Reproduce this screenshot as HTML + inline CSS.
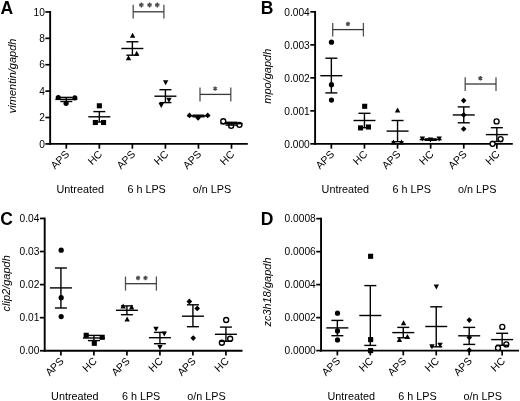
<!DOCTYPE html>
<html><head><meta charset="utf-8"><style>
html,body{margin:0;padding:0;background:#fff;width:520px;height:401px;overflow:hidden}
svg{display:block;will-change:transform}
text{font-family:"Liberation Sans", sans-serif}
</style></head><body>
<svg width="520" height="401" viewBox="0 0 520 401">
<rect width="520" height="401" fill="#fff"/>
<line x1="50.15" y1="11.05" x2="50.15" y2="144.80" stroke="#000" stroke-width="1.9"/>
<line x1="49.20" y1="143.90" x2="247.80" y2="143.90" stroke="#000" stroke-width="1.9"/>
<line x1="45.35" y1="143.90" x2="50.15" y2="143.90" stroke="#000" stroke-width="1.7"/>
<text x="44.85" y="147.55" font-size="10.2" text-anchor="end" font-weight="normal" font-style="normal" fill="#000" >0</text>
<line x1="45.35" y1="117.51" x2="50.15" y2="117.51" stroke="#000" stroke-width="1.7"/>
<text x="44.85" y="121.16" font-size="10.2" text-anchor="end" font-weight="normal" font-style="normal" fill="#000" >2</text>
<line x1="45.35" y1="91.12" x2="50.15" y2="91.12" stroke="#000" stroke-width="1.7"/>
<text x="44.85" y="94.77" font-size="10.2" text-anchor="end" font-weight="normal" font-style="normal" fill="#000" >4</text>
<line x1="45.35" y1="64.73" x2="50.15" y2="64.73" stroke="#000" stroke-width="1.7"/>
<text x="44.85" y="68.38" font-size="10.2" text-anchor="end" font-weight="normal" font-style="normal" fill="#000" >6</text>
<line x1="45.35" y1="38.34" x2="50.15" y2="38.34" stroke="#000" stroke-width="1.7"/>
<text x="44.85" y="41.99" font-size="10.2" text-anchor="end" font-weight="normal" font-style="normal" fill="#000" >8</text>
<line x1="45.35" y1="11.95" x2="50.15" y2="11.95" stroke="#000" stroke-width="1.7"/>
<text x="44.85" y="15.60" font-size="10.2" text-anchor="end" font-weight="normal" font-style="normal" fill="#000" >10</text>
<line x1="66.30" y1="143.90" x2="66.30" y2="148.70" stroke="#000" stroke-width="1.7"/>
<text x="69.90" y="154.90" font-size="10.5" text-anchor="end" font-weight="normal" font-style="normal" fill="#000" transform="rotate(-45 69.90 154.90)">APS</text>
<line x1="99.34" y1="143.90" x2="99.34" y2="148.70" stroke="#000" stroke-width="1.7"/>
<text x="102.94" y="154.90" font-size="10.5" text-anchor="end" font-weight="normal" font-style="normal" fill="#000" transform="rotate(-45 102.94 154.90)">HC</text>
<line x1="132.38" y1="143.90" x2="132.38" y2="148.70" stroke="#000" stroke-width="1.7"/>
<text x="135.98" y="154.90" font-size="10.5" text-anchor="end" font-weight="normal" font-style="normal" fill="#000" transform="rotate(-45 135.98 154.90)">APS</text>
<line x1="165.42" y1="143.90" x2="165.42" y2="148.70" stroke="#000" stroke-width="1.7"/>
<text x="169.02" y="154.90" font-size="10.5" text-anchor="end" font-weight="normal" font-style="normal" fill="#000" transform="rotate(-45 169.02 154.90)">HC</text>
<line x1="198.46" y1="143.90" x2="198.46" y2="148.70" stroke="#000" stroke-width="1.7"/>
<text x="202.06" y="154.90" font-size="10.5" text-anchor="end" font-weight="normal" font-style="normal" fill="#000" transform="rotate(-45 202.06 154.90)">APS</text>
<line x1="231.50" y1="143.90" x2="231.50" y2="148.70" stroke="#000" stroke-width="1.7"/>
<text x="235.10" y="154.90" font-size="10.5" text-anchor="end" font-weight="normal" font-style="normal" fill="#000" transform="rotate(-45 235.10 154.90)">HC</text>
<text x="80.22" y="193.30" font-size="10.8" text-anchor="middle" font-weight="normal" font-style="normal" fill="#000" >Untreated</text>
<text x="146.60" y="193.30" font-size="10.8" text-anchor="middle" font-weight="normal" font-style="normal" fill="#000" >6 h LPS</text>
<text x="211.98" y="193.30" font-size="10.8" text-anchor="middle" font-weight="normal" font-style="normal" fill="#000" >o/n LPS</text>
<text x="16.50" y="75.90" font-size="11" text-anchor="middle" font-weight="normal" font-style="italic" fill="#000" transform="rotate(-90 16.50 75.90)">vimentin/gapdh</text>
<text x="0.60" y="13.50" font-size="17.5" text-anchor="start" font-weight="bold" font-style="normal" fill="#000" >A</text>
<circle cx="58.30" cy="97.50" r="2.6" fill="#000"/>
<circle cx="74.80" cy="97.80" r="2.6" fill="#000"/>
<circle cx="66.10" cy="103.30" r="2.6" fill="#000"/>
<line x1="66.30" y1="97.40" x2="66.30" y2="101.50" stroke="#000" stroke-width="1.4"/>
<line x1="60.30" y1="97.40" x2="72.30" y2="97.40" stroke="#000" stroke-width="1.4"/>
<line x1="60.30" y1="101.50" x2="72.30" y2="101.50" stroke="#000" stroke-width="1.4"/>
<line x1="55.30" y1="99.40" x2="77.30" y2="99.40" stroke="#000" stroke-width="1.4"/>
<rect x="96.80" y="103.25" width="5.1" height="5.1" fill="#000"/>
<rect x="92.80" y="119.95" width="5.1" height="5.1" fill="#000"/>
<rect x="101.00" y="119.95" width="5.1" height="5.1" fill="#000"/>
<line x1="99.34" y1="111.60" x2="99.34" y2="122.00" stroke="#000" stroke-width="1.4"/>
<line x1="93.34" y1="111.60" x2="105.34" y2="111.60" stroke="#000" stroke-width="1.4"/>
<line x1="93.34" y1="122.00" x2="105.34" y2="122.00" stroke="#000" stroke-width="1.4"/>
<line x1="88.34" y1="116.80" x2="110.34" y2="116.80" stroke="#000" stroke-width="1.4"/>
<path d="M132.60,32.80L135.30,37.80L129.90,37.80Z" fill="#000"/>
<path d="M136.70,50.80L139.40,55.80L134.00,55.80Z" fill="#000"/>
<path d="M128.50,55.20L131.20,60.20L125.80,60.20Z" fill="#000"/>
<line x1="132.38" y1="41.75" x2="132.38" y2="55.20" stroke="#000" stroke-width="1.4"/>
<line x1="126.38" y1="41.75" x2="138.38" y2="41.75" stroke="#000" stroke-width="1.4"/>
<line x1="126.38" y1="55.20" x2="138.38" y2="55.20" stroke="#000" stroke-width="1.4"/>
<line x1="121.38" y1="48.50" x2="143.38" y2="48.50" stroke="#000" stroke-width="1.4"/>
<path d="M165.65,85.30L168.35,80.30L162.95,80.30Z" fill="#000"/>
<path d="M168.95,102.80L171.65,97.80L166.25,97.80Z" fill="#000"/>
<path d="M161.25,107.90L163.95,102.90L158.55,102.90Z" fill="#000"/>
<line x1="165.42" y1="89.70" x2="165.42" y2="102.60" stroke="#000" stroke-width="1.4"/>
<line x1="159.42" y1="89.70" x2="171.42" y2="89.70" stroke="#000" stroke-width="1.4"/>
<line x1="159.42" y1="102.60" x2="171.42" y2="102.60" stroke="#000" stroke-width="1.4"/>
<line x1="154.42" y1="96.20" x2="176.42" y2="96.20" stroke="#000" stroke-width="1.4"/>
<path d="M189.50,112.45L192.30,115.40L189.50,118.35L186.70,115.40Z" fill="#000"/>
<path d="M198.10,114.75L200.90,117.70L198.10,120.65L195.30,117.70Z" fill="#000"/>
<path d="M207.70,112.45L210.50,115.40L207.70,118.35L204.90,115.40Z" fill="#000"/>
<line x1="198.46" y1="115.20" x2="198.46" y2="116.80" stroke="#000" stroke-width="1.4"/>
<line x1="192.46" y1="115.20" x2="204.46" y2="115.20" stroke="#000" stroke-width="1.4"/>
<line x1="192.46" y1="116.80" x2="204.46" y2="116.80" stroke="#000" stroke-width="1.4"/>
<line x1="187.46" y1="116.00" x2="209.46" y2="116.00" stroke="#000" stroke-width="1.4"/>
<circle cx="223.25" cy="121.20" r="2.5" fill="#fff" stroke="#000" stroke-width="1.35"/>
<circle cx="231.15" cy="125.80" r="2.5" fill="#fff" stroke="#000" stroke-width="1.35"/>
<circle cx="239.45" cy="124.80" r="2.5" fill="#fff" stroke="#000" stroke-width="1.35"/>
<line x1="231.50" y1="122.30" x2="231.50" y2="125.10" stroke="#000" stroke-width="1.4"/>
<line x1="225.50" y1="122.30" x2="237.50" y2="122.30" stroke="#000" stroke-width="1.4"/>
<line x1="225.50" y1="125.10" x2="237.50" y2="125.10" stroke="#000" stroke-width="1.4"/>
<line x1="220.50" y1="123.70" x2="242.50" y2="123.70" stroke="#000" stroke-width="1.4"/>
<line x1="133.20" y1="4.70" x2="133.20" y2="18.60" stroke="#505050" stroke-width="1.3"/>
<line x1="163.90" y1="4.70" x2="163.90" y2="18.60" stroke="#505050" stroke-width="1.3"/>
<line x1="133.20" y1="11.80" x2="163.90" y2="11.80" stroke="#383838" stroke-width="1.3"/>
<path d="M141.40,2.60L141.40,7.40M139.32,3.80L143.48,6.20M143.48,3.80L139.32,6.20" stroke="#4a4a4a" stroke-width="1.35" fill="none"/>
<path d="M149.60,2.60L149.60,7.40M147.52,3.80L151.68,6.20M151.68,3.80L147.52,6.20" stroke="#4a4a4a" stroke-width="1.35" fill="none"/>
<path d="M157.30,2.60L157.30,7.40M155.22,3.80L159.38,6.20M159.38,3.80L155.22,6.20" stroke="#4a4a4a" stroke-width="1.35" fill="none"/>
<line x1="200.00" y1="87.60" x2="200.00" y2="101.40" stroke="#505050" stroke-width="1.3"/>
<line x1="230.80" y1="87.60" x2="230.80" y2="101.40" stroke="#505050" stroke-width="1.3"/>
<line x1="200.00" y1="94.40" x2="230.80" y2="94.40" stroke="#383838" stroke-width="1.3"/>
<path d="M215.20,86.40L215.20,90.80M213.29,87.50L217.11,89.70M217.11,87.50L213.29,89.70" stroke="#4a4a4a" stroke-width="1.35" fill="none"/>
<line x1="315.10" y1="10.95" x2="315.10" y2="144.75" stroke="#000" stroke-width="1.9"/>
<line x1="314.15" y1="143.85" x2="512.80" y2="143.85" stroke="#000" stroke-width="1.9"/>
<line x1="310.30" y1="143.85" x2="315.10" y2="143.85" stroke="#000" stroke-width="1.7"/>
<text x="309.80" y="147.50" font-size="10.2" text-anchor="end" font-weight="normal" font-style="normal" fill="#000" >0.000</text>
<line x1="310.30" y1="110.85" x2="315.10" y2="110.85" stroke="#000" stroke-width="1.7"/>
<text x="309.80" y="114.50" font-size="10.2" text-anchor="end" font-weight="normal" font-style="normal" fill="#000" >0.001</text>
<line x1="310.30" y1="77.85" x2="315.10" y2="77.85" stroke="#000" stroke-width="1.7"/>
<text x="309.80" y="81.50" font-size="10.2" text-anchor="end" font-weight="normal" font-style="normal" fill="#000" >0.002</text>
<line x1="310.30" y1="44.85" x2="315.10" y2="44.85" stroke="#000" stroke-width="1.7"/>
<text x="309.80" y="48.50" font-size="10.2" text-anchor="end" font-weight="normal" font-style="normal" fill="#000" >0.003</text>
<line x1="310.30" y1="11.85" x2="315.10" y2="11.85" stroke="#000" stroke-width="1.7"/>
<text x="309.80" y="15.50" font-size="10.2" text-anchor="end" font-weight="normal" font-style="normal" fill="#000" >0.004</text>
<line x1="331.35" y1="143.85" x2="331.35" y2="148.65" stroke="#000" stroke-width="1.7"/>
<text x="334.95" y="154.85" font-size="10.5" text-anchor="end" font-weight="normal" font-style="normal" fill="#000" transform="rotate(-45 334.95 154.85)">APS</text>
<line x1="364.45" y1="143.85" x2="364.45" y2="148.65" stroke="#000" stroke-width="1.7"/>
<text x="368.05" y="154.85" font-size="10.5" text-anchor="end" font-weight="normal" font-style="normal" fill="#000" transform="rotate(-45 368.05 154.85)">HC</text>
<line x1="397.55" y1="143.85" x2="397.55" y2="148.65" stroke="#000" stroke-width="1.7"/>
<text x="401.15" y="154.85" font-size="10.5" text-anchor="end" font-weight="normal" font-style="normal" fill="#000" transform="rotate(-45 401.15 154.85)">APS</text>
<line x1="430.65" y1="143.85" x2="430.65" y2="148.65" stroke="#000" stroke-width="1.7"/>
<text x="434.25" y="154.85" font-size="10.5" text-anchor="end" font-weight="normal" font-style="normal" fill="#000" transform="rotate(-45 434.25 154.85)">HC</text>
<line x1="463.75" y1="143.85" x2="463.75" y2="148.65" stroke="#000" stroke-width="1.7"/>
<text x="467.35" y="154.85" font-size="10.5" text-anchor="end" font-weight="normal" font-style="normal" fill="#000" transform="rotate(-45 467.35 154.85)">APS</text>
<line x1="496.85" y1="143.85" x2="496.85" y2="148.65" stroke="#000" stroke-width="1.7"/>
<text x="500.45" y="154.85" font-size="10.5" text-anchor="end" font-weight="normal" font-style="normal" fill="#000" transform="rotate(-45 500.45 154.85)">HC</text>
<text x="345.30" y="193.25" font-size="10.8" text-anchor="middle" font-weight="normal" font-style="normal" fill="#000" >Untreated</text>
<text x="411.80" y="193.25" font-size="10.8" text-anchor="middle" font-weight="normal" font-style="normal" fill="#000" >6 h LPS</text>
<text x="477.30" y="193.25" font-size="10.8" text-anchor="middle" font-weight="normal" font-style="normal" fill="#000" >o/n LPS</text>
<text x="270.60" y="76.20" font-size="11" text-anchor="middle" font-weight="normal" font-style="italic" fill="#000" transform="rotate(-90 270.60 76.20)">mpo/gapdh</text>
<text x="260.80" y="13.50" font-size="17.5" text-anchor="start" font-weight="bold" font-style="normal" fill="#000" >B</text>
<circle cx="331.47" cy="42.20" r="2.6" fill="#000"/>
<circle cx="331.47" cy="84.70" r="2.6" fill="#000"/>
<circle cx="331.47" cy="100.10" r="2.6" fill="#000"/>
<line x1="331.35" y1="58.20" x2="331.35" y2="92.90" stroke="#000" stroke-width="1.4"/>
<line x1="325.35" y1="58.20" x2="337.35" y2="58.20" stroke="#000" stroke-width="1.4"/>
<line x1="325.35" y1="92.90" x2="337.35" y2="92.90" stroke="#000" stroke-width="1.4"/>
<line x1="320.35" y1="75.70" x2="342.35" y2="75.70" stroke="#000" stroke-width="1.4"/>
<rect x="362.12" y="103.75" width="5.1" height="5.1" fill="#000"/>
<rect x="358.02" y="125.35" width="5.1" height="5.1" fill="#000"/>
<rect x="365.92" y="124.45" width="5.1" height="5.1" fill="#000"/>
<line x1="364.45" y1="113.30" x2="364.45" y2="127.70" stroke="#000" stroke-width="1.4"/>
<line x1="358.45" y1="113.30" x2="370.45" y2="113.30" stroke="#000" stroke-width="1.4"/>
<line x1="358.45" y1="127.70" x2="370.45" y2="127.70" stroke="#000" stroke-width="1.4"/>
<line x1="353.45" y1="120.50" x2="375.45" y2="120.50" stroke="#000" stroke-width="1.4"/>
<path d="M397.57,107.60L400.27,112.60L394.87,112.60Z" fill="#000"/>
<path d="M393.47,139.50L396.17,144.50L390.77,144.50Z" fill="#000"/>
<path d="M401.47,139.50L404.17,144.50L398.77,144.50Z" fill="#000"/>
<line x1="397.55" y1="120.50" x2="397.55" y2="141.70" stroke="#000" stroke-width="1.4"/>
<line x1="391.55" y1="120.50" x2="403.55" y2="120.50" stroke="#000" stroke-width="1.4"/>
<line x1="391.55" y1="141.70" x2="403.55" y2="141.70" stroke="#000" stroke-width="1.4"/>
<line x1="386.55" y1="131.10" x2="408.55" y2="131.10" stroke="#000" stroke-width="1.4"/>
<path d="M422.37,141.40L425.07,136.40L419.67,136.40Z" fill="#000"/>
<path d="M430.47,142.60L433.17,137.60L427.77,137.60Z" fill="#000"/>
<path d="M439.17,141.40L441.87,136.40L436.47,136.40Z" fill="#000"/>
<line x1="430.65" y1="138.90" x2="430.65" y2="140.30" stroke="#000" stroke-width="1.4"/>
<line x1="424.65" y1="138.90" x2="436.65" y2="138.90" stroke="#000" stroke-width="1.4"/>
<line x1="424.65" y1="140.30" x2="436.65" y2="140.30" stroke="#000" stroke-width="1.4"/>
<line x1="419.65" y1="139.60" x2="441.65" y2="139.60" stroke="#000" stroke-width="1.4"/>
<path d="M463.67,97.65L466.47,100.60L463.67,103.55L460.87,100.60Z" fill="#000"/>
<path d="M463.67,111.95L466.47,114.90L463.67,117.85L460.87,114.90Z" fill="#000"/>
<path d="M463.67,125.95L466.47,128.90L463.67,131.85L460.87,128.90Z" fill="#000"/>
<line x1="463.75" y1="106.90" x2="463.75" y2="122.80" stroke="#000" stroke-width="1.4"/>
<line x1="457.75" y1="106.90" x2="469.75" y2="106.90" stroke="#000" stroke-width="1.4"/>
<line x1="457.75" y1="122.80" x2="469.75" y2="122.80" stroke="#000" stroke-width="1.4"/>
<line x1="452.75" y1="114.95" x2="474.75" y2="114.95" stroke="#000" stroke-width="1.4"/>
<circle cx="496.57" cy="121.40" r="2.5" fill="#fff" stroke="#000" stroke-width="1.35"/>
<circle cx="500.57" cy="139.10" r="2.5" fill="#fff" stroke="#000" stroke-width="1.35"/>
<circle cx="492.57" cy="143.80" r="2.5" fill="#fff" stroke="#000" stroke-width="1.35"/>
<line x1="496.85" y1="127.70" x2="496.85" y2="141.50" stroke="#000" stroke-width="1.4"/>
<line x1="490.85" y1="127.70" x2="502.85" y2="127.70" stroke="#000" stroke-width="1.4"/>
<line x1="490.85" y1="141.50" x2="502.85" y2="141.50" stroke="#000" stroke-width="1.4"/>
<line x1="485.85" y1="134.60" x2="507.85" y2="134.60" stroke="#000" stroke-width="1.4"/>
<line x1="332.70" y1="22.90" x2="332.70" y2="36.50" stroke="#505050" stroke-width="1.3"/>
<line x1="363.40" y1="22.90" x2="363.40" y2="36.50" stroke="#505050" stroke-width="1.3"/>
<line x1="332.70" y1="29.60" x2="363.40" y2="29.60" stroke="#383838" stroke-width="1.3"/>
<path d="M348.00,21.80L348.00,26.20M346.09,22.90L349.91,25.10M349.91,22.90L346.09,25.10" stroke="#4a4a4a" stroke-width="1.35" fill="none"/>
<line x1="465.20" y1="77.20" x2="465.20" y2="91.00" stroke="#505050" stroke-width="1.3"/>
<line x1="496.00" y1="77.20" x2="496.00" y2="91.00" stroke="#505050" stroke-width="1.3"/>
<line x1="465.20" y1="84.00" x2="496.00" y2="84.00" stroke="#383838" stroke-width="1.3"/>
<path d="M480.40,76.00L480.40,80.40M478.49,77.10L482.31,79.30M482.31,77.10L478.49,79.30" stroke="#4a4a4a" stroke-width="1.35" fill="none"/>
<line x1="44.70" y1="217.55" x2="44.70" y2="351.65" stroke="#000" stroke-width="1.9"/>
<line x1="43.75" y1="350.75" x2="242.50" y2="350.75" stroke="#000" stroke-width="1.9"/>
<line x1="39.90" y1="350.75" x2="44.70" y2="350.75" stroke="#000" stroke-width="1.7"/>
<text x="39.40" y="354.40" font-size="10.2" text-anchor="end" font-weight="normal" font-style="normal" fill="#000" >0.00</text>
<line x1="39.90" y1="317.68" x2="44.70" y2="317.68" stroke="#000" stroke-width="1.7"/>
<text x="39.40" y="321.33" font-size="10.2" text-anchor="end" font-weight="normal" font-style="normal" fill="#000" >0.01</text>
<line x1="39.90" y1="284.60" x2="44.70" y2="284.60" stroke="#000" stroke-width="1.7"/>
<text x="39.40" y="288.25" font-size="10.2" text-anchor="end" font-weight="normal" font-style="normal" fill="#000" >0.02</text>
<line x1="39.90" y1="251.52" x2="44.70" y2="251.52" stroke="#000" stroke-width="1.7"/>
<text x="39.40" y="255.18" font-size="10.2" text-anchor="end" font-weight="normal" font-style="normal" fill="#000" >0.03</text>
<line x1="39.90" y1="218.45" x2="44.70" y2="218.45" stroke="#000" stroke-width="1.7"/>
<text x="39.40" y="222.10" font-size="10.2" text-anchor="end" font-weight="normal" font-style="normal" fill="#000" >0.04</text>
<line x1="60.92" y1="350.75" x2="60.92" y2="355.55" stroke="#000" stroke-width="1.7"/>
<text x="64.52" y="361.75" font-size="10.5" text-anchor="end" font-weight="normal" font-style="normal" fill="#000" transform="rotate(-45 64.52 361.75)">APS</text>
<line x1="93.92" y1="350.75" x2="93.92" y2="355.55" stroke="#000" stroke-width="1.7"/>
<text x="97.52" y="361.75" font-size="10.5" text-anchor="end" font-weight="normal" font-style="normal" fill="#000" transform="rotate(-45 97.52 361.75)">HC</text>
<line x1="126.92" y1="350.75" x2="126.92" y2="355.55" stroke="#000" stroke-width="1.7"/>
<text x="130.52" y="361.75" font-size="10.5" text-anchor="end" font-weight="normal" font-style="normal" fill="#000" transform="rotate(-45 130.52 361.75)">APS</text>
<line x1="159.92" y1="350.75" x2="159.92" y2="355.55" stroke="#000" stroke-width="1.7"/>
<text x="163.52" y="361.75" font-size="10.5" text-anchor="end" font-weight="normal" font-style="normal" fill="#000" transform="rotate(-45 163.52 361.75)">HC</text>
<line x1="192.92" y1="350.75" x2="192.92" y2="355.55" stroke="#000" stroke-width="1.7"/>
<text x="196.52" y="361.75" font-size="10.5" text-anchor="end" font-weight="normal" font-style="normal" fill="#000" transform="rotate(-45 196.52 361.75)">APS</text>
<line x1="225.92" y1="350.75" x2="225.92" y2="355.55" stroke="#000" stroke-width="1.7"/>
<text x="229.52" y="361.75" font-size="10.5" text-anchor="end" font-weight="normal" font-style="normal" fill="#000" transform="rotate(-45 229.52 361.75)">HC</text>
<text x="74.82" y="399.85" font-size="10.8" text-anchor="middle" font-weight="normal" font-style="normal" fill="#000" >Untreated</text>
<text x="141.12" y="399.85" font-size="10.8" text-anchor="middle" font-weight="normal" font-style="normal" fill="#000" >6 h LPS</text>
<text x="206.42" y="399.85" font-size="10.8" text-anchor="middle" font-weight="normal" font-style="normal" fill="#000" >o/n LPS</text>
<text x="10.40" y="283.30" font-size="11" text-anchor="middle" font-weight="normal" font-style="italic" fill="#000" transform="rotate(-90 10.40 283.30)">clip2/gapdh</text>
<text x="0.20" y="225.20" font-size="17.5" text-anchor="start" font-weight="bold" font-style="normal" fill="#000" >C</text>
<circle cx="61.17" cy="250.20" r="2.6" fill="#000"/>
<circle cx="61.17" cy="297.70" r="2.6" fill="#000"/>
<circle cx="61.17" cy="316.60" r="2.6" fill="#000"/>
<line x1="60.92" y1="268.00" x2="60.92" y2="308.00" stroke="#000" stroke-width="1.4"/>
<line x1="54.92" y1="268.00" x2="66.92" y2="268.00" stroke="#000" stroke-width="1.4"/>
<line x1="54.92" y1="308.00" x2="66.92" y2="308.00" stroke="#000" stroke-width="1.4"/>
<line x1="49.92" y1="287.90" x2="71.92" y2="287.90" stroke="#000" stroke-width="1.4"/>
<rect x="83.66" y="332.75" width="5.1" height="5.1" fill="#000"/>
<rect x="99.66" y="334.75" width="5.1" height="5.1" fill="#000"/>
<rect x="91.76" y="340.75" width="5.1" height="5.1" fill="#000"/>
<line x1="93.92" y1="335.40" x2="93.92" y2="340.60" stroke="#000" stroke-width="1.4"/>
<line x1="87.92" y1="335.40" x2="99.92" y2="335.40" stroke="#000" stroke-width="1.4"/>
<line x1="87.92" y1="340.60" x2="99.92" y2="340.60" stroke="#000" stroke-width="1.4"/>
<line x1="82.92" y1="338.00" x2="104.92" y2="338.00" stroke="#000" stroke-width="1.4"/>
<path d="M123.15,303.40L125.85,308.40L120.45,308.40Z" fill="#000"/>
<path d="M131.65,304.50L134.35,309.50L128.95,309.50Z" fill="#000"/>
<path d="M127.15,316.50L129.85,321.50L124.45,321.50Z" fill="#000"/>
<line x1="126.92" y1="305.90" x2="126.92" y2="314.70" stroke="#000" stroke-width="1.4"/>
<line x1="120.92" y1="305.90" x2="132.92" y2="305.90" stroke="#000" stroke-width="1.4"/>
<line x1="120.92" y1="314.70" x2="132.92" y2="314.70" stroke="#000" stroke-width="1.4"/>
<line x1="115.92" y1="310.30" x2="137.92" y2="310.30" stroke="#000" stroke-width="1.4"/>
<path d="M155.99,331.80L158.69,326.80L153.29,326.80Z" fill="#000"/>
<path d="M164.29,336.40L166.99,331.40L161.59,331.40Z" fill="#000"/>
<path d="M159.99,349.90L162.69,344.90L157.29,344.90Z" fill="#000"/>
<line x1="159.92" y1="332.40" x2="159.92" y2="343.70" stroke="#000" stroke-width="1.4"/>
<line x1="153.92" y1="332.40" x2="165.92" y2="332.40" stroke="#000" stroke-width="1.4"/>
<line x1="153.92" y1="343.70" x2="165.92" y2="343.70" stroke="#000" stroke-width="1.4"/>
<line x1="148.92" y1="337.70" x2="170.92" y2="337.70" stroke="#000" stroke-width="1.4"/>
<path d="M189.33,298.55L192.13,301.50L189.33,304.45L186.53,301.50Z" fill="#000"/>
<path d="M197.23,305.45L200.03,308.40L197.23,311.35L194.43,308.40Z" fill="#000"/>
<path d="M193.23,335.15L196.03,338.10L193.23,341.05L190.43,338.10Z" fill="#000"/>
<line x1="192.92" y1="304.80" x2="192.92" y2="326.70" stroke="#000" stroke-width="1.4"/>
<line x1="186.92" y1="304.80" x2="198.92" y2="304.80" stroke="#000" stroke-width="1.4"/>
<line x1="186.92" y1="326.70" x2="198.92" y2="326.70" stroke="#000" stroke-width="1.4"/>
<line x1="181.92" y1="316.20" x2="203.92" y2="316.20" stroke="#000" stroke-width="1.4"/>
<circle cx="226.17" cy="320.00" r="2.5" fill="#fff" stroke="#000" stroke-width="1.35"/>
<circle cx="230.17" cy="338.70" r="2.5" fill="#fff" stroke="#000" stroke-width="1.35"/>
<circle cx="221.87" cy="342.70" r="2.5" fill="#fff" stroke="#000" stroke-width="1.35"/>
<line x1="225.92" y1="327.10" x2="225.92" y2="341.30" stroke="#000" stroke-width="1.4"/>
<line x1="219.92" y1="327.10" x2="231.92" y2="327.10" stroke="#000" stroke-width="1.4"/>
<line x1="219.92" y1="341.30" x2="231.92" y2="341.30" stroke="#000" stroke-width="1.4"/>
<line x1="214.92" y1="334.30" x2="236.92" y2="334.30" stroke="#000" stroke-width="1.4"/>
<line x1="125.50" y1="276.50" x2="125.50" y2="290.60" stroke="#505050" stroke-width="1.3"/>
<line x1="156.40" y1="276.50" x2="156.40" y2="290.60" stroke="#505050" stroke-width="1.3"/>
<line x1="125.50" y1="283.70" x2="156.40" y2="283.70" stroke="#383838" stroke-width="1.3"/>
<path d="M138.10,275.80L138.10,280.20M136.19,276.90L140.01,279.10M140.01,276.90L136.19,279.10" stroke="#4a4a4a" stroke-width="1.35" fill="none"/>
<path d="M145.50,275.80L145.50,280.20M143.59,276.90L147.41,279.10M147.41,276.90L143.59,279.10" stroke="#4a4a4a" stroke-width="1.35" fill="none"/>
<line x1="321.05" y1="217.75" x2="321.05" y2="351.50" stroke="#000" stroke-width="1.9"/>
<line x1="320.10" y1="350.60" x2="519.00" y2="350.60" stroke="#000" stroke-width="1.9"/>
<line x1="316.25" y1="350.60" x2="321.05" y2="350.60" stroke="#000" stroke-width="1.7"/>
<text x="315.75" y="354.25" font-size="10.2" text-anchor="end" font-weight="normal" font-style="normal" fill="#000" >0.0000</text>
<line x1="316.25" y1="317.61" x2="321.05" y2="317.61" stroke="#000" stroke-width="1.7"/>
<text x="315.75" y="321.26" font-size="10.2" text-anchor="end" font-weight="normal" font-style="normal" fill="#000" >0.0002</text>
<line x1="316.25" y1="284.62" x2="321.05" y2="284.62" stroke="#000" stroke-width="1.7"/>
<text x="315.75" y="288.28" font-size="10.2" text-anchor="end" font-weight="normal" font-style="normal" fill="#000" >0.0004</text>
<line x1="316.25" y1="251.64" x2="321.05" y2="251.64" stroke="#000" stroke-width="1.7"/>
<text x="315.75" y="255.29" font-size="10.2" text-anchor="end" font-weight="normal" font-style="normal" fill="#000" >0.0006</text>
<line x1="316.25" y1="218.65" x2="321.05" y2="218.65" stroke="#000" stroke-width="1.7"/>
<text x="315.75" y="222.30" font-size="10.2" text-anchor="end" font-weight="normal" font-style="normal" fill="#000" >0.0008</text>
<line x1="337.35" y1="350.60" x2="337.35" y2="355.40" stroke="#000" stroke-width="1.7"/>
<text x="340.95" y="361.60" font-size="10.5" text-anchor="end" font-weight="normal" font-style="normal" fill="#000" transform="rotate(-45 340.95 361.60)">APS</text>
<line x1="370.31" y1="350.60" x2="370.31" y2="355.40" stroke="#000" stroke-width="1.7"/>
<text x="373.91" y="361.60" font-size="10.5" text-anchor="end" font-weight="normal" font-style="normal" fill="#000" transform="rotate(-45 373.91 361.60)">HC</text>
<line x1="403.27" y1="350.60" x2="403.27" y2="355.40" stroke="#000" stroke-width="1.7"/>
<text x="406.87" y="361.60" font-size="10.5" text-anchor="end" font-weight="normal" font-style="normal" fill="#000" transform="rotate(-45 406.87 361.60)">APS</text>
<line x1="436.23" y1="350.60" x2="436.23" y2="355.40" stroke="#000" stroke-width="1.7"/>
<text x="439.83" y="361.60" font-size="10.5" text-anchor="end" font-weight="normal" font-style="normal" fill="#000" transform="rotate(-45 439.83 361.60)">HC</text>
<line x1="469.19" y1="350.60" x2="469.19" y2="355.40" stroke="#000" stroke-width="1.7"/>
<text x="472.79" y="361.60" font-size="10.5" text-anchor="end" font-weight="normal" font-style="normal" fill="#000" transform="rotate(-45 472.79 361.60)">APS</text>
<line x1="502.15" y1="350.60" x2="502.15" y2="355.40" stroke="#000" stroke-width="1.7"/>
<text x="505.75" y="361.60" font-size="10.5" text-anchor="end" font-weight="normal" font-style="normal" fill="#000" transform="rotate(-45 505.75 361.60)">HC</text>
<text x="351.23" y="399.70" font-size="10.8" text-anchor="middle" font-weight="normal" font-style="normal" fill="#000" >Untreated</text>
<text x="417.45" y="399.70" font-size="10.8" text-anchor="middle" font-weight="normal" font-style="normal" fill="#000" >6 h LPS</text>
<text x="482.67" y="399.70" font-size="10.8" text-anchor="middle" font-weight="normal" font-style="normal" fill="#000" >o/n LPS</text>
<text x="270.70" y="292.00" font-size="11" text-anchor="middle" font-weight="normal" font-style="italic" fill="#000" transform="rotate(-90 270.70 292.00)">zc3h18/gapdh</text>
<text x="260.80" y="225.00" font-size="17.5" text-anchor="start" font-weight="bold" font-style="normal" fill="#000" >D</text>
<circle cx="337.50" cy="313.20" r="2.6" fill="#000"/>
<circle cx="337.50" cy="330.90" r="2.6" fill="#000"/>
<circle cx="337.50" cy="339.90" r="2.6" fill="#000"/>
<line x1="337.35" y1="320.40" x2="337.35" y2="335.70" stroke="#000" stroke-width="1.4"/>
<line x1="331.35" y1="320.40" x2="343.35" y2="320.40" stroke="#000" stroke-width="1.4"/>
<line x1="331.35" y1="335.70" x2="343.35" y2="335.70" stroke="#000" stroke-width="1.4"/>
<line x1="326.35" y1="327.90" x2="348.35" y2="327.90" stroke="#000" stroke-width="1.4"/>
<rect x="368.07" y="253.75" width="5.1" height="5.1" fill="#000"/>
<rect x="368.07" y="337.05" width="5.1" height="5.1" fill="#000"/>
<rect x="368.07" y="348.05" width="5.1" height="5.1" fill="#000"/>
<line x1="370.31" y1="285.60" x2="370.31" y2="345.40" stroke="#000" stroke-width="1.4"/>
<line x1="364.31" y1="285.60" x2="376.31" y2="285.60" stroke="#000" stroke-width="1.4"/>
<line x1="364.31" y1="345.40" x2="376.31" y2="345.40" stroke="#000" stroke-width="1.4"/>
<line x1="359.31" y1="315.50" x2="381.31" y2="315.50" stroke="#000" stroke-width="1.4"/>
<path d="M403.54,320.20L406.24,325.20L400.84,325.20Z" fill="#000"/>
<path d="M407.44,334.10L410.14,339.10L404.74,339.10Z" fill="#000"/>
<path d="M399.44,337.10L402.14,342.10L396.74,342.10Z" fill="#000"/>
<line x1="403.27" y1="327.40" x2="403.27" y2="337.80" stroke="#000" stroke-width="1.4"/>
<line x1="397.27" y1="327.40" x2="409.27" y2="327.40" stroke="#000" stroke-width="1.4"/>
<line x1="397.27" y1="337.80" x2="409.27" y2="337.80" stroke="#000" stroke-width="1.4"/>
<line x1="392.27" y1="332.60" x2="414.27" y2="332.60" stroke="#000" stroke-width="1.4"/>
<path d="M436.36,289.40L439.06,284.40L433.66,284.40Z" fill="#000"/>
<path d="M431.96,349.20L434.66,344.20L429.26,344.20Z" fill="#000"/>
<path d="M440.06,347.80L442.76,342.80L437.36,342.80Z" fill="#000"/>
<line x1="436.23" y1="306.80" x2="436.23" y2="346.80" stroke="#000" stroke-width="1.4"/>
<line x1="430.23" y1="306.80" x2="442.23" y2="306.80" stroke="#000" stroke-width="1.4"/>
<line x1="430.23" y1="346.80" x2="442.23" y2="346.80" stroke="#000" stroke-width="1.4"/>
<line x1="425.23" y1="326.50" x2="447.23" y2="326.50" stroke="#000" stroke-width="1.4"/>
<path d="M469.28,317.15L472.08,320.10L469.28,323.05L466.48,320.10Z" fill="#000"/>
<path d="M469.28,334.45L472.08,337.40L469.28,340.35L466.48,337.40Z" fill="#000"/>
<path d="M469.28,347.35L472.08,350.30L469.28,353.25L466.48,350.30Z" fill="#000"/>
<line x1="469.19" y1="327.40" x2="469.19" y2="344.40" stroke="#000" stroke-width="1.4"/>
<line x1="463.19" y1="327.40" x2="475.19" y2="327.40" stroke="#000" stroke-width="1.4"/>
<line x1="463.19" y1="344.40" x2="475.19" y2="344.40" stroke="#000" stroke-width="1.4"/>
<line x1="458.19" y1="335.80" x2="480.19" y2="335.80" stroke="#000" stroke-width="1.4"/>
<circle cx="502.30" cy="326.90" r="2.5" fill="#fff" stroke="#000" stroke-width="1.35"/>
<circle cx="506.30" cy="344.40" r="2.5" fill="#fff" stroke="#000" stroke-width="1.35"/>
<circle cx="498.00" cy="348.00" r="2.5" fill="#fff" stroke="#000" stroke-width="1.35"/>
<line x1="502.15" y1="333.30" x2="502.15" y2="345.30" stroke="#000" stroke-width="1.4"/>
<line x1="496.15" y1="333.30" x2="508.15" y2="333.30" stroke="#000" stroke-width="1.4"/>
<line x1="496.15" y1="345.30" x2="508.15" y2="345.30" stroke="#000" stroke-width="1.4"/>
<line x1="491.15" y1="339.60" x2="513.15" y2="339.60" stroke="#000" stroke-width="1.4"/>
</svg>
</body></html>
